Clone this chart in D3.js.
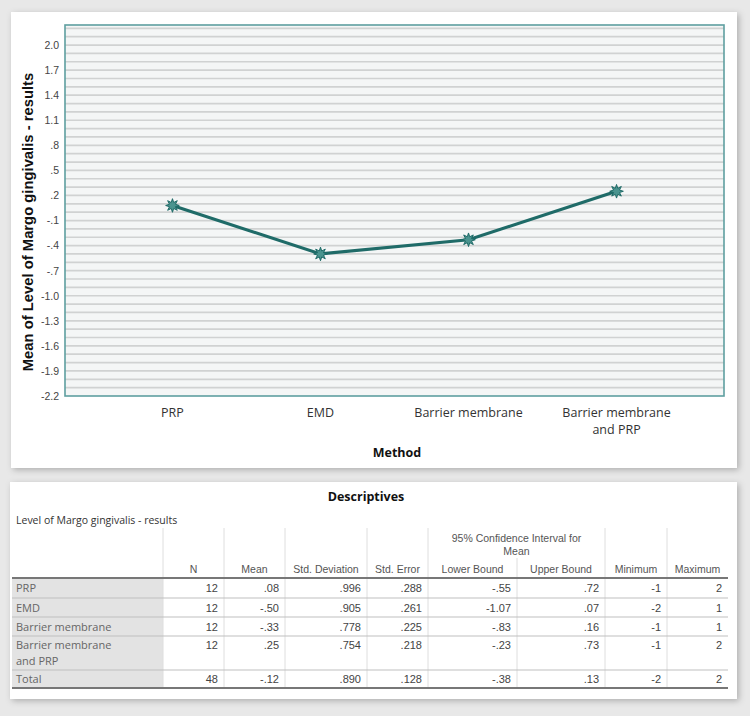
<!DOCTYPE html>
<html><head><meta charset="utf-8">
<script src="https://cdn.jsdelivr.net/npm/d3@7"></script>
<style>
html,body{margin:0;padding:0;background:#e8e8e8;}
svg{display:block;}
</style></head>
<body>
<svg id="c" width="750" height="716"></svg>
<script>
const categories = ["PRP", "EMD", "Barrier membrane", "Barrier membrane and PRP"];
const categoryLines = [["PRP"], ["EMD"], ["Barrier membrane"], ["Barrier membrane", "and PRP"]];
const means = [0.08, -0.50, -0.33, 0.25];
const yTicks = [2.0, 1.7, 1.4, 1.1, 0.8, 0.5, 0.2, -0.1, -0.4, -0.7, -1.0, -1.3, -1.6, -1.9, -2.2];
const yTickLabels = ["2.0","1.7","1.4","1.1",".8",".5",".2","-.1","-.4","-.7","-1.0","-1.3","-1.6","-1.9","-2.2"];

const tableTitle = "Descriptives";
const tableSubtitle = "Level of Margo gingivalis - results";
const colHeaders = ["N","Mean","Std. Deviation","Std. Error","Lower Bound","Upper Bound","Minimum","Maximum"];
const rowLabels = [["PRP"],["EMD"],["Barrier membrane"],["Barrier membrane","and PRP"],["Total"]];
const colN = ["12","12","12","12","48"];
const colMean = [".08","-.50","-.33",".25","-.12"];
const colSD = [".996",".905",".778",".754",".890"];
const colSE = [".288",".261",".225",".218",".128"];
const colLower = ["-.55","-1.07","-.83","-.23","-.38"];
const colUpper = [".72",".07",".16",".73",".13"];
const colMin = ["-1","-2","-1","-1","-2"];
const colMax = ["2","1","1","2","2"];

const svg = d3.select("#c");
const defs = svg.append("defs");
const f = defs.append("filter").attr("id","sh").attr("x","-5%").attr("y","-5%").attr("width","110%").attr("height","115%");
f.append("feDropShadow").attr("dx",2).attr("dy",2).attr("stdDeviation",3).attr("flood-color","#000").attr("flood-opacity",0.25);

// cards
svg.append("rect").attr("x",11).attr("y",12).attr("width",726).attr("height",456).attr("fill","#fff").attr("filter","url(#sh)");
svg.append("rect").attr("x",10).attr("y",482).attr("width",727).attr("height",217).attr("fill","#fff").attr("filter","url(#sh)");

// chart
const L=65, R=724, T=25, B=396;
const y = d3.scaleLinear().domain([-2.2, 2.24]).range([B, T]);
const x = d3.scalePoint().domain(categories).range([L, R]).padding(0.726);

const g = svg.append("g");
g.append("rect").attr("x",L).attr("y",T).attr("width",R-L).attr("height",B-T).attr("fill","#f4f6f6");
const grid = d3.range(-21, 23).map(v => v/10);
g.selectAll("line.grid").data(grid).join("line").attr("class","grid")
  .attr("x1",L).attr("x2",R).attr("y1",d=>y(d)).attr("y2",d=>y(d))
  .attr("stroke","#d0d2d2").attr("stroke-width",1.7);
g.append("rect").attr("x",L).attr("y",T).attr("width",R-L).attr("height",B-T)
  .attr("fill","none").attr("stroke","#5e9fa0").attr("stroke-width",1.6);

// y axis labels
const ya = d3.axisLeft(y).tickValues(yTicks).tickSize(0).tickPadding(6).tickFormat((d,i)=>yTickLabels[i]);
const yg = g.append("g").attr("transform",`translate(${L},0)`).call(ya);
yg.select(".domain").remove();
yg.selectAll("text").attr("font-family","Liberation Sans, Arial, sans-serif").attr("font-size",10.5).attr("fill","#444");

svg.append("text").attr("transform","translate(33,222) rotate(-90)").attr("text-anchor","middle")
  .attr("font-family","Liberation Sans, Arial, sans-serif").attr("font-weight","bold").attr("font-size",14.8).attr("fill","#111")
  .text("Mean of Level of Margo gingivalis - results");

// x labels
const xl = svg.append("g");
categories.forEach((c,i)=>{
  const t = xl.append("text").attr("x",x(c)).attr("y",417).attr("text-anchor","middle")
    .attr("font-family","Open Sans, Noto Sans, sans-serif").attr("font-size",12.5).attr("fill","#333");
  categoryLines[i].forEach((ln,j)=>t.append("tspan").attr("x",x(c)).attr("dy",j?17:0).text(ln));
});
svg.append("text").attr("x",397).attr("y",457).attr("text-anchor","middle")
  .attr("font-family","Open Sans, Noto Sans, sans-serif").attr("font-weight","bold").attr("font-size",12.5).attr("fill","#111").text("Method");

// line
const line = d3.line().x((d,i)=>x(categories[i])).y(d=>y(d));
g.append("path").datum(means).attr("d",line).attr("fill","none").attr("stroke","#1f6b68").attr("stroke-width",3.2);
const starPts = d3.range(16).map(k=>[k*Math.PI/8, k%2?3.2:6.8]);
const star = d3.lineRadial().angle(d=>d[0]).radius(d=>d[1]).curve(d3.curveLinearClosed);
g.selectAll("path.m").data(means).join("path").attr("class","m")
  .attr("transform",(d,i)=>`translate(${x(categories[i])},${y(d)})`)
  .attr("d",star(starPts)).attr("fill","#4a948f").attr("stroke","#1f6b68").attr("stroke-width",1);

// table
const tf = "Liberation Sans, Arial, sans-serif";
const tg = svg.append("g");
tg.append("text").attr("x",366).attr("y",501).attr("text-anchor","middle").attr("font-family","Open Sans, Noto Sans, sans-serif")
  .attr("font-weight","bold").attr("font-size",12.5).attr("fill","#111").text(tableTitle);
tg.append("text").attr("x",16).attr("y",524).attr("font-family","Open Sans, Noto Sans, sans-serif")
  .attr("font-size",10.5).attr("fill","#333").text(tableSubtitle);

const colX = [12,163,224,285,367,428,517,605,667,728];
const headTop = 528, headBot = 578;
const rowB = [578, 598, 617, 636, 670, 688];
const cols = [colN,colMean,colSD,colSE,colLower,colUpper,colMin,colMax];

// label column shading
tg.append("rect").attr("x",colX[0]).attr("y",rowB[0]).attr("width",colX[1]-colX[0]).attr("height",rowB[5]-rowB[0]).attr("fill","#e3e3e3");

// vertical lines
[1,2,3,4,5,7,8].forEach(k=>{
  tg.append("line").attr("x1",colX[k]).attr("x2",colX[k]).attr("y1",headTop).attr("y2",rowB[5]).attr("stroke","#dedede").attr("stroke-width",1);
});
tg.append("line").attr("x1",colX[6]).attr("x2",colX[6]).attr("y1",558).attr("y2",rowB[5]).attr("stroke","#dedede").attr("stroke-width",1);

// horizontal row lines
rowB.slice(1,5).forEach(yy=>{
  tg.append("line").attr("x1",colX[0]).attr("x2",colX[9]).attr("y1",yy).attr("y2",yy).attr("stroke","#bfbfbf").attr("stroke-width",1);
});
tg.append("line").attr("x1",colX[0]).attr("x2",colX[9]).attr("y1",headBot).attr("y2",headBot).attr("stroke","#777").attr("stroke-width",2);
tg.append("line").attr("x1",colX[0]).attr("x2",colX[9]).attr("y1",rowB[5]).attr("y2",rowB[5]).attr("stroke","#777").attr("stroke-width",2);

// headers
const hs = 10.5;
tg.append("text").attr("x",(colX[5]+colX[7])/2).attr("y",542).attr("text-anchor","middle").attr("font-family",tf).attr("font-size",hs).attr("fill","#555").text("95% Confidence Interval for");
tg.append("text").attr("x",(colX[5]+colX[7])/2).attr("y",555).attr("text-anchor","middle").attr("font-family",tf).attr("font-size",hs).attr("fill","#555").text("Mean");
colHeaders.forEach((h,k)=>{
  tg.append("text").attr("x",(colX[k+1]+colX[k+2])/2).attr("y",573).attr("text-anchor","middle")
    .attr("font-family",tf).attr("font-size",hs).attr("fill","#555").text(h);
});

// body
rowLabels.forEach((lab,r)=>{
  const top = rowB[r], bot = rowB[r+1];
  const ty = lab.length>1 ? top+13 : (top+bot)/2+4;
  const t = tg.append("text").attr("x",16).attr("y",ty).attr("font-family","Open Sans, Noto Sans, sans-serif").attr("font-size",11).attr("fill","#666");
  lab.forEach((ln,j)=>t.append("tspan").attr("x",16).attr("dy",j?16:0).text(ln));
  cols.forEach((col,k)=>{
    tg.append("text").attr("x",colX[k+2]-6).attr("y",ty).attr("text-anchor","end")
      .attr("font-family",tf).attr("font-size",11).attr("fill","#444").text(col[r]);
  });
});
</script>
</body></html>
